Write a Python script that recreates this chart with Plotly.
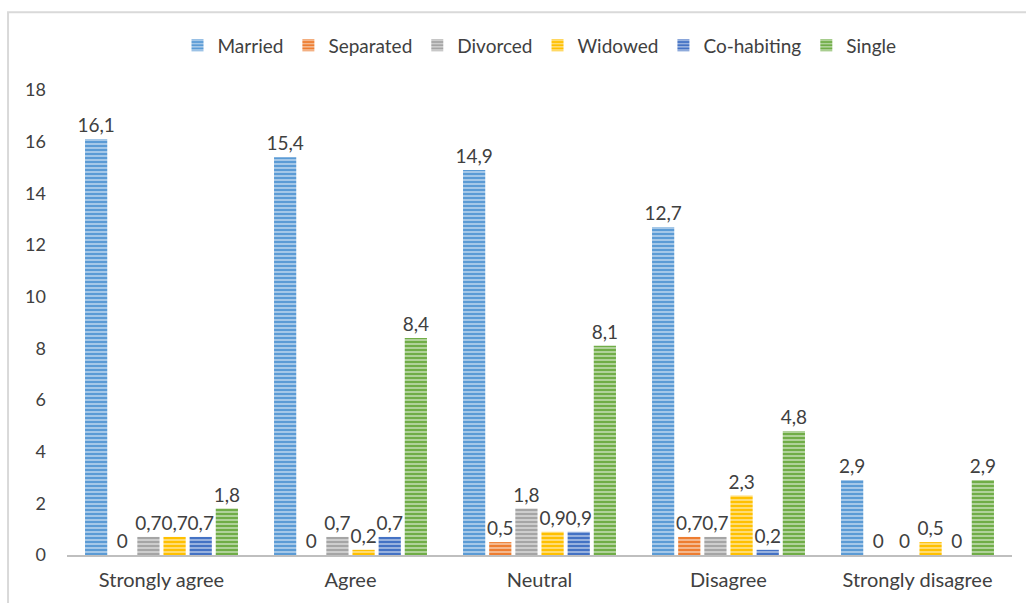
import plotly.graph_objects as go

categories = ["Strongly agree", "Agree", "Neutral", "Disagree", "Strongly disagree"]
series_names = ["Married", "Separated", "Divorced", "Widowed", "Co-habiting", "Single"]
married = [16.1, 15.4, 14.9, 12.7, 2.9]
separated = [0, 0, 0.5, 0.7, 0]
divorced = [0.7, 0.7, 1.8, 0.7, 0]
widowed = [0.7, 0.2, 0.9, 2.3, 0.5]
cohabiting = [0.7, 0.7, 0.9, 0.2, 0]
single = [1.8, 8.4, 8.1, 4.8, 2.9]
y_ticks = [0, 2, 4, 6, 8, 10, 12, 14, 16, 18]

series_values = [married, separated, divorced, widowed, cohabiting, single]
colors = ["#5B9BD5", "#ED7D31", "#A5A5A5", "#FFC000", "#4472C4", "#70AD47"]
stripe = ["#D6E6F5", "#FADFCC", "#E9E9E9", "#FFF0BF", "#D0DCF0", "#DBEBD1"]

FONT = "Lato"
TXT = "#404040"


def fmt(v):
    return f"{v:g}".replace(".", ",")


fig = go.Figure()
for name, vals, col, st in zip(series_names, series_values, colors, stripe):
    fig.add_trace(go.Bar(
        name=name,
        x=categories,
        y=vals,
        text=[fmt(v) for v in vals],
        textposition="outside",
        cliponaxis=False,
        textfont=dict(family=FONT, size=19, color=TXT),
        marker=dict(
            color=col,
            line=dict(width=0),
            pattern=dict(shape="-", fgcolor=st, bgcolor=col,
                         fillmode="replace", size=4, solidity=0.3),
        ),
    ))

fig.update_layout(
    width=1026, height=603,
    margin=dict(l=67, r=14, t=90, b=46),
    paper_bgcolor="white",
    plot_bgcolor="white",
    barmode="group",
    bargap=0.17,
    bargroupgap=0.15,
    separators=",.",
    uniformtext=dict(minsize=19, mode="show"),
    font=dict(family=FONT, size=19, color=TXT),
    showlegend=True,
    legend=dict(
        orientation="h",
        x=0.5, xanchor="center",
        y=1.096, yanchor="middle",
        font=dict(family=FONT, size=19, color=TXT),
        itemwidth=30,
        traceorder="normal",
    ),
    xaxis=dict(
        showline=True, linecolor="#BFBFBF", linewidth=2,
        ticks="", showgrid=False,
        ticklabelstandoff=6,
        tickfont=dict(family=FONT, size=20, color=TXT),
    ),
    yaxis=dict(
        range=[0, 18],
        tickvals=y_ticks,
        showgrid=False, zeroline=False, showline=False,
        ticks="",
        ticklabelstandoff=20,
        tickfont=dict(family=FONT, size=18, color=TXT),
    ),
    shapes=[dict(
        type="rect", xref="paper", yref="paper",
        x0=-0.0624, x1=1.2, y0=-0.3, y1=1.167,
        line=dict(color="#D9D9D9", width=2),
        fillcolor="rgba(0,0,0,0)", layer="below",
    )],
)

fig.write_html("out.html")
